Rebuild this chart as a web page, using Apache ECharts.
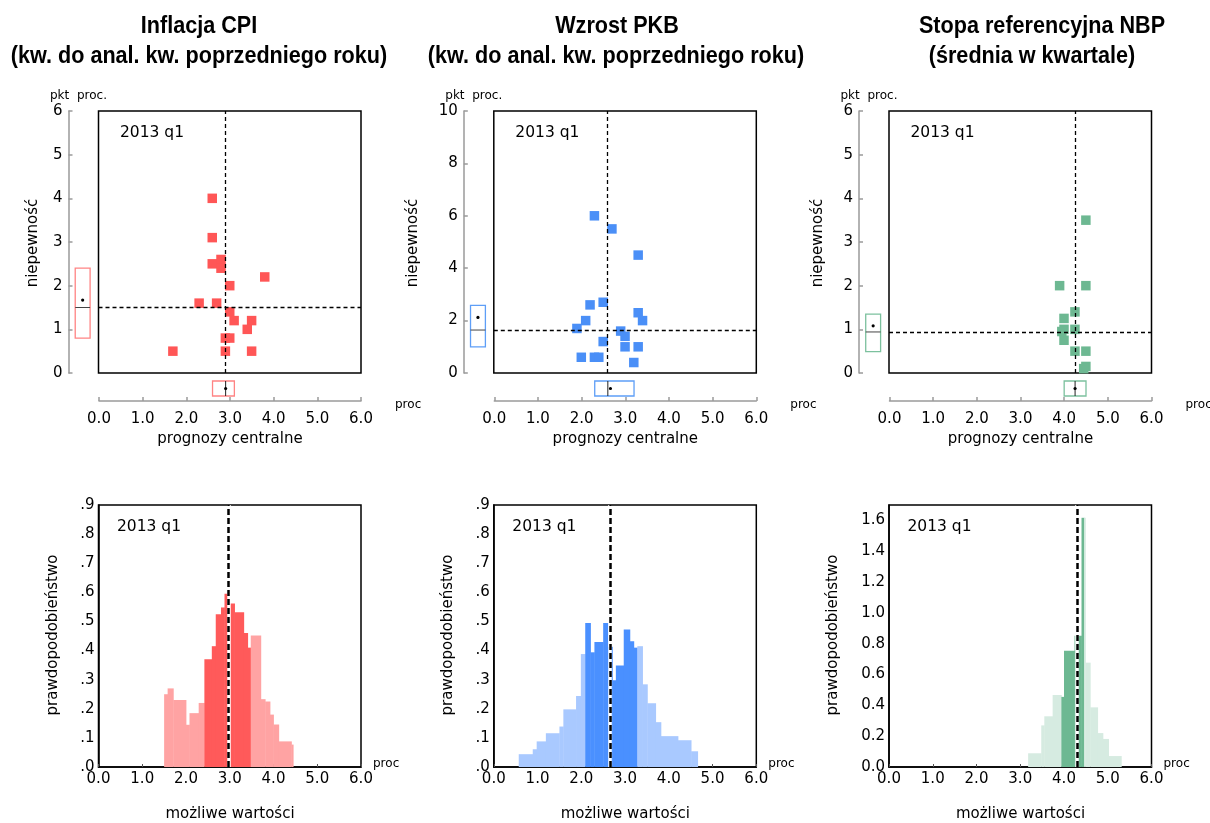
<!DOCTYPE html>
<html><head><meta charset="utf-8">
<script src="https://cdn.jsdelivr.net/npm/echarts@6/dist/echarts.min.js"></script>
<style>html,body{margin:0;padding:0;background:#fff}#c{width:1210px;height:823px}</style>
</head><body><div id="c"></div>
<script>
// ---------- DATA ----------
const periodLabel = '2013 q1';
const xTickLabels = ['0.0','1.0','2.0','3.0','4.0','5.0','6.0'];

// Inflacja CPI
const cpiScatterX = [2.6, 2.6, 2.6, 2.8, 2.8, 3.8, 3.0, 2.3, 2.7, 3.0, 3.1, 3.5, 3.4, 2.9, 3.0, 1.7, 2.9, 3.5];
const cpiScatterY = [4.0, 3.1, 2.5, 2.6, 2.4, 2.2, 2.0, 1.6, 1.6, 1.4, 1.2, 1.2, 1.0, 0.8, 0.8, 0.5, 0.5, 0.5];
const cpiBoxCentral = [2.6, 2.9, 3.1, 2.9];      // q1, median, q3, mean
const cpiBoxUncert  = [0.8, 1.5, 2.4, 1.67];
const cpiHistEdges   = [1.5, 1.58, 1.71, 2.0, 2.08, 2.29, 2.42, 2.59, 2.68, 2.80, 2.88, 2.97, 3.11, 3.32, 3.41, 3.48, 3.71, 3.81, 3.92, 4.0, 4.12, 4.41, 4.45];
const cpiHistHeights = [0.25, 0.27, 0.23, 0.145, 0.185, 0.22, 0.37, 0.415, 0.525, 0.548, 0.595, 0.562, 0.532, 0.46, 0.41, 0.452, 0.233, 0.225, 0.18, 0.146, 0.088, 0.077];
const cpiHistCentral = [2.42, 3.48];
const cpiHistMarker = 2.97;

// Wzrost PKB
const gdpScatterX = [2.3, 2.7, 3.3, 2.5, 2.2, 3.3, 3.4, 2.1, 1.9, 2.9, 3.0, 2.5, 3.0, 3.3, 2.0, 2.3, 2.4, 3.2];
const gdpScatterY = [6.0, 5.5, 4.5, 2.7, 2.6, 2.3, 2.0, 2.0, 1.7, 1.6, 1.4, 1.2, 1.0, 1.0, 0.6, 0.6, 0.6, 0.4];
const gdpBoxCentral = [2.3, 2.6, 3.2, 2.66];
const gdpBoxUncert  = [1.0, 1.64, 2.58, 2.12];
const gdpHistEdges   = [0.57, 0.89, 0.98, 1.19, 1.50, 1.59, 1.88, 1.99, 2.09, 2.21, 2.30, 2.50, 2.61, 2.71, 2.79, 2.97, 3.11, 3.20, 3.28, 3.40, 3.51, 3.70, 3.82, 4.21, 4.51, 4.66];
const gdpHistHeights = [0.044, 0.061, 0.088, 0.116, 0.139, 0.198, 0.244, 0.388, 0.495, 0.394, 0.429, 0.495, 0.413, 0.298, 0.349, 0.472, 0.432, 0.41, 0.415, 0.284, 0.219, 0.154, 0.106, 0.092, 0.054];
const gdpHistCentral = [2.09, 3.28];
const gdpHistMarker = 2.66;

// Stopa referencyjna NBP
const nbpScatterX = [4.5, 3.9, 4.5, 4.25, 4.0, 4.0, 3.95, 4.25, 4.0, 4.25, 4.5, 4.5, 4.45];
const nbpScatterY = [3.5, 2.0, 2.0, 1.4, 1.25, 1.0, 0.95, 1.0, 0.75, 0.5, 0.5, 0.15, 0.1];
const nbpBoxCentral = [4.0, 4.25, 4.5, 4.25];
const nbpBoxUncert  = [0.49, 0.94, 1.35, 1.08];
const nbpHistEdges   = [3.18, 3.48, 3.55, 3.74, 3.94, 4.0, 4.24, 4.40, 4.46, 4.49, 4.60, 4.77, 4.89, 5.02, 5.31];
const nbpHistHeights = [0.089, 0.27, 0.329, 0.467, 0.455, 0.755, 0.852, 1.617, 1.617, 0.677, 0.387, 0.22, 0.182, 0.071];
const nbpHistCentral = [3.94, 4.46];
const nbpHistMarker = 4.30;

// ---------- PANELS ----------
const panels = [
  { t1:'Inflacja CPI', t2:'(kw. do anal. kw. poprzedniego roku)', t1x:199, t2x:199,
    sx:cpiScatterX, sy:cpiScatterY, boxC:cpiBoxCentral, boxU:cpiBoxUncert,
    edges:cpiHistEdges, heights:cpiHistHeights, central:cpiHistCentral, marker:cpiHistMarker,
    yMax:6, yInt:1, hMax:0.9, hInt:0.1, hFmt:v=>'.'+Math.round(v*10),
    c:'#FF5656', cBox:'#FF8484', cDark:'#FF5A5A', cLight:'#FFA3A3', unc:33, prw:53 },
  { t1:'Wzrost PKB', t2:'(kw. do anal. kw. poprzedniego roku)', t1x:617, t2x:616,
    sx:gdpScatterX, sy:gdpScatterY, boxC:gdpBoxCentral, boxU:gdpBoxUncert,
    edges:gdpHistEdges, heights:gdpHistHeights, central:gdpHistCentral, marker:gdpHistMarker,
    yMax:10, yInt:2, hMax:0.9, hInt:0.1, hFmt:v=>'.'+Math.round(v*10),
    c:'#4A8FF7', cBox:'#5E9EF7', cDark:'#4A90FF', cLight:'#A9C9FF', unc:413, prw:448 },
  { t1:'Stopa referencyjna NBP', t2:'(średnia w kwartale)', t1x:1042, t2x:1032,
    sx:nbpScatterX, sy:nbpScatterY, boxC:nbpBoxCentral, boxU:nbpBoxUncert,
    edges:nbpHistEdges, heights:nbpHistHeights, central:nbpHistCentral, marker:nbpHistMarker,
    yMax:6, yInt:1, hMax:1.7, hInt:0.2, hFmt:v=>v.toFixed(1),
    c:'#6DB892', cBox:'#7CC19E', cDark:'#6DB892', cLight:'#D6EBE1', unc:818, prw:833 }
];

const FONT = '"DejaVu Sans", sans-serif';
const TFONT = '"Liberation Sans", Arial, sans-serif';
const DX = [0, 395.3, 790.5];
const AX = '#9a9a9a';

const grid = [], xAxis = [], yAxis = [], series = [], graphic = [];

function txt(x, y, s, font, align, opts) {
  return Object.assign({ type:'text', x, y, silent:true,
    style:{ text:s, font, fill:'#000', align:align || 'center', verticalAlign:'middle' } }, opts || {});
}

panels.forEach((p, i) => {
  const dx = DX[i];
  const g = grid.length;
  grid.push({ left:98.5+dx, top:111, width:262.5, height:262, show:true, borderColor:'#000', borderWidth:1.5 });
  grid.push({ left:68.5+dx, top:111, width:24, height:262 });
  grid.push({ left:99+dx, top:376, width:262, height:25 });
  grid.push({ left:98.5+dx, top:505, width:262.5, height:262, show:true, borderColor:'#000', borderWidth:1.5 });

  const lbl = { fontFamily:FONT, fontSize:15, color:'#000' };
  // scatter grid
  xAxis.push({ gridIndex:g, type:'value', min:0, max:6, show:false });
  yAxis.push({ gridIndex:g, type:'value', min:0, max:p.yMax, show:false });
  // left strip with y axis
  xAxis.push({ gridIndex:g+1, type:'value', min:0, max:1, show:false });
  yAxis.push({ gridIndex:g+1, type:'value', min:0, max:p.yMax, interval:p.yInt,
    axisLine:{ show:true, lineStyle:{ color:AX, width:1.5 } },
    axisTick:{ show:true, inside:true, length:4, lineStyle:{ color:AX, width:1.5 } },
    axisLabel:Object.assign({ margin:6 }, lbl), splitLine:{ show:false } });
  // bottom strip with x axis
  xAxis.push({ gridIndex:g+2, type:'value', min:0, max:6, interval:1, position:'bottom',
    axisLine:{ show:true, lineStyle:{ color:AX, width:1.5 } },
    axisTick:{ show:true, inside:true, length:4, lineStyle:{ color:AX, width:1.5 } },
    axisLabel:Object.assign({ margin:11, formatter:v => xTickLabels[Math.round(v)] }, lbl),
    splitLine:{ show:false } });
  yAxis.push({ gridIndex:g+2, type:'value', min:0, max:1, show:false });
  // histogram grid
  xAxis.push({ gridIndex:g+3, type:'value', min:0, max:6, interval:1,
    axisLine:{ show:true, lineStyle:{ color:'#000', width:1.5 } },
    axisTick:{ show:true, inside:true, length:3, lineStyle:{ color:'#555' } },
    axisLabel:Object.assign({ margin:5, formatter:v => xTickLabels[Math.round(v)] }, lbl),
    splitLine:{ show:false } });
  yAxis.push({ gridIndex:g+3, type:'value', min:0, max:p.hMax, interval:p.hInt,
    axisLine:{ show:true, lineStyle:{ color:'#000', width:1.5 } },
    axisTick:{ show:false },
    axisLabel:Object.assign({ margin:4, formatter:p.hFmt, showMaxLabel: p.hMax === 0.9 }, lbl),
    splitLine:{ show:false } });

  // scatter + median crosshair
  series.push({ type:'scatter', xAxisIndex:g, yAxisIndex:g, symbol:'rect', symbolSize:9.5,
    itemStyle:{ color:p.c, opacity:1 }, silent:true, z:3,
    data:p.sx.map((x, k) => [x, p.sy[k]]),
    markLine:{ silent:true, symbol:'none', label:{ show:false }, animation:false,
      lineStyle:{ color:'#000', width:1.3, type:[4,3] },
      data:[ { xAxis:p.boxC[1] }, { yAxis:p.boxU[1] } ] } });

  // left boxplot (uncertainty)
  series.push({ type:'custom', xAxisIndex:g+1, yAxisIndex:g+1, silent:true, z:3,
    data:[p.boxU],
    renderItem:(params, api) => {
      const lo = api.value(0), md = api.value(1), hi = api.value(2), mn = api.value(3);
      const x0 = api.coord([0.28, lo])[0], x1 = api.coord([0.9, lo])[0];
      const yl = api.coord([0, lo])[1], yh = api.coord([0, hi])[1], ym = api.coord([0, md])[1], yn = api.coord([0, mn])[1];
      return { type:'group', children:[
        { type:'rect', shape:{ x:x0, y:yh, width:x1-x0, height:yl-yh }, style:{ fill:'none', stroke:p.cBox, lineWidth:1.3 } },
        { type:'line', shape:{ x1:x0, y1:ym, x2:x1, y2:ym }, style:{ stroke:'#444', lineWidth:1 } },
        { type:'circle', shape:{ cx:(x0+x1)/2, cy:yn, r:1.6 }, style:{ fill:'#000' } } ] };
    } });

  // bottom boxplot (central forecasts)
  series.push({ type:'custom', xAxisIndex:g+2, yAxisIndex:g+2, silent:true, z:3,
    data:[p.boxC],
    renderItem:(params, api) => {
      const lo = api.value(0), md = api.value(1), hi = api.value(2), mn = api.value(3);
      const y0 = api.coord([lo, 0.8])[1], y1 = api.coord([lo, 0.2])[1];
      const xl = api.coord([lo, 0])[0], xh = api.coord([hi, 0])[0], xm = api.coord([md, 0])[0], xn = api.coord([mn, 0])[0];
      return { type:'group', children:[
        { type:'rect', shape:{ x:xl, y:y0, width:xh-xl, height:y1-y0 }, style:{ fill:'none', stroke:p.cBox, lineWidth:1.3 } },
        { type:'line', shape:{ x1:xm, y1:y0, x2:xm, y2:y1 }, style:{ stroke:'#222', lineWidth:1 } },
        { type:'circle', shape:{ cx:xn, cy:(y0+y1)/2, r:1.6 }, style:{ fill:'#000' } } ] };
    } });

  // histogram
  const hdata = p.heights.map((h, k) => {
    const a = p.edges[k], b = p.edges[k+1];
    const dark = (a >= p.central[0] - 1e-9 && b <= p.central[1] + 1e-9) ? 1 : 0;
    return [a, b, h, dark];
  });
  series.push({ type:'custom', xAxisIndex:g+3, yAxisIndex:g+3, silent:true, z:2,
    data:hdata, encode:{ x:[0,1], y:2 },
    renderItem:(params, api) => {
      const a = api.value(0), b = api.value(1), h = api.value(2), d = api.value(3);
      const pA = api.coord([a, h]), pB = api.coord([b, 0]);
      return { type:'rect', shape:{ x:pA[0], y:pA[1], width:pB[0]-pA[0]+0.4, height:pB[1]-pA[1] },
        style:{ fill: d ? p.cDark : p.cLight } };
    },
    markLine:{ silent:true, symbol:'none', label:{ show:false }, animation:false,
      data:[ { xAxis:p.marker, lineStyle:{ color:'#fff', width:3.5, type:'solid' } },
             { xAxis:p.marker, lineStyle:{ color:'#000', width:2.5, type:[6,3] } } ] } });

  // texts
  graphic.push(txt(p.t1x, 26, p.t1, 'bold 24px ' + TFONT, 'center', { scaleX:0.9 }));
  graphic.push(txt(p.t2x, 56, p.t2, 'bold 24px ' + TFONT, 'center', { scaleX:0.9 }));
  graphic.push(txt(50+dx, 96, 'pkt  proc.', '12px ' + FONT, 'left'));
  graphic.push(txt(120+dx, 133, periodLabel, '15.5px ' + FONT, 'left'));
  graphic.push(txt(117+dx, 527, periodLabel, '15.5px ' + FONT, 'left'));
  graphic.push(txt(p.unc, 243, 'niepewność', '15px ' + FONT, 'center', { rotation:Math.PI/2 }));
  graphic.push(txt(p.prw, 635, 'prawdopodobieństwo', '15px ' + FONT, 'center', { rotation:Math.PI/2 }));
  graphic.push(txt(230+dx, 439, 'prognozy centralne', '15px ' + FONT));
  graphic.push(txt(230+dx, 814, 'możliwe wartości', '15px ' + FONT));
  graphic.push(txt(395+dx, 405, 'proc', '12px ' + FONT, 'left'));
  graphic.push(txt(373+dx, 764, 'proc', '12px ' + FONT, 'left'));
});

const chart = echarts.init(document.getElementById('c'), null, { renderer:'canvas' });
chart.setOption({ animation:false, backgroundColor:'#fff', grid, xAxis, yAxis, series, graphic });
</script>
</body></html>
